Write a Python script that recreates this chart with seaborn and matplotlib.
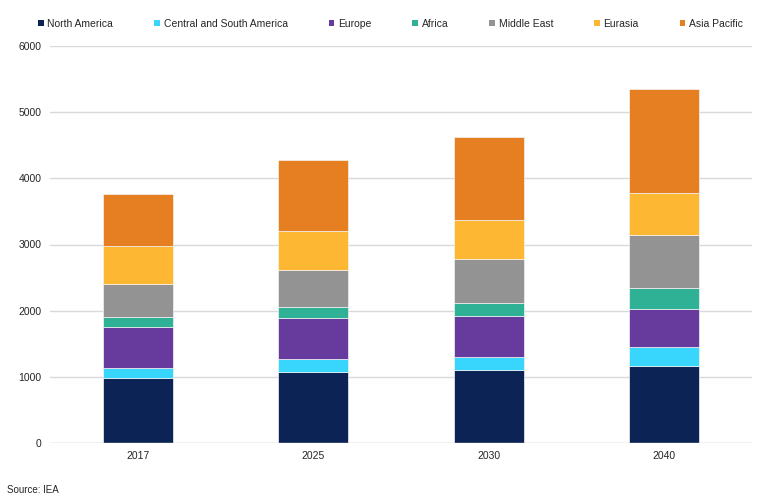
import pandas as pd
import matplotlib
matplotlib.use("Agg")
import matplotlib.pyplot as plt
import seaborn as sns
from matplotlib.patches import Patch

# data
years = ['2017', '2025', '2030', '2040']
regions = ['North America', 'Central and South America', 'Europe', 'Africa',
           'Middle East', 'Eurasia', 'Asia Pacific']
north_america = [975, 1072, 1098, 1168]
central_south_america = [162, 196, 206, 277]
europe = [614, 619, 614, 579]
africa = [151, 171, 202, 322]
middle_east = [498, 563, 654, 791]
eurasia = [579, 584, 600, 634]
asia_pacific = [785, 1077, 1258, 1581]
colors = ['#0C2355', '#38D5FD', '#673A9E', '#2FB195', '#939393', '#FDB733', '#E67E22']

df = pd.DataFrame({
    'Year': years,
    'North America': north_america,
    'Central and South America': central_south_america,
    'Europe': europe,
    'Africa': africa,
    'Middle East': middle_east,
    'Eurasia': eurasia,
    'Asia Pacific': asia_pacific,
})

sns.set_theme(style="white")
plt.rcParams['font.family'] = ['Liberation Sans', 'DejaVu Sans']

fig = plt.figure(figsize=(7.7, 5.0), dpi=100)
ax = fig.add_axes([50 / 770, 1 - 443 / 500, 702 / 770, 397 / 500])

bottom = pd.Series([0] * len(years))
for region, color in zip(regions, colors):
    sns.barplot(x=df['Year'], y=df[region], bottom=bottom.values, color=color,
                saturation=1, width=0.4, edgecolor='#F4F4F4', linewidth=0.5,
                ax=ax, zorder=3)
    bottom = bottom + df[region]

ax.set_ylim(0, 6000)
ax.set_yticks(range(0, 6001, 1000))
ax.yaxis.grid(True, color='#D9D9D9', linewidth=1, zorder=0)
ax.xaxis.grid(False)
for s in ax.spines.values():
    s.set_visible(False)
ax.axhline(0, color='#D9D9D9', linewidth=1, zorder=4)
ax.set_xlabel('')
ax.set_ylabel('')
ax.tick_params(axis='both', length=0, labelsize=7.5, colors='#262626', pad=6)

handles = [Patch(facecolor=c, edgecolor='none') for c in colors]
fig.legend(handles, regions, loc='center left', ncol=7, frameon=False,
           bbox_to_anchor=(38 / 770, 1 - 24 / 500, 705 / 770, 0), mode='expand',
           fontsize=7.5, handlelength=0.55, handleheight=0.55, handletextpad=0.35,
           borderaxespad=0, borderpad=0)

fig.text(7 / 770, 1 - 490 / 500, 'Source: IEA', fontsize=7, color='#262626', va='center')

fig.savefig('out.png', dpi=100)
